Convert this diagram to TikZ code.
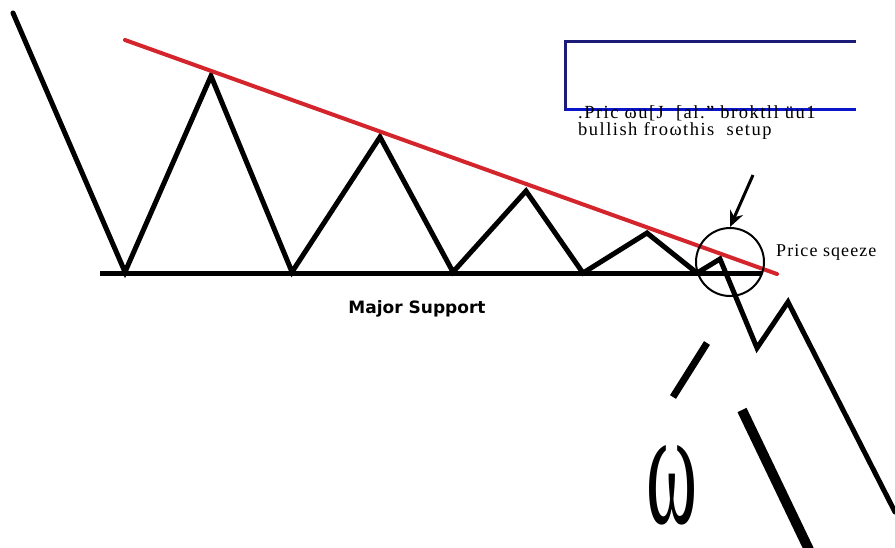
\documentclass[tikz,border=0pt]{standalone}
\usepackage{fontspec}
\setmainfont{Liberation Serif}
\newfontfamily\labsans{DejaVu Sans}
\usetikzlibrary{arrows.meta}
\definecolor{trendred}{HTML}{D3252B}
\definecolor{navy}{HTML}{1C1C78}
\definecolor{boxblue}{HTML}{0A14C8}
\tikzset{
  price/.style={line width=5pt, line join=miter, line cap=round},
  support/.style={line width=5pt},
  trend/.style={trendred, line width=4pt, line cap=round},
  bigstroke/.style={line width=#1},
  note/.style={inner sep=0pt, align=left, anchor=base west, font=\fontsize{18.5}{17}\selectfont\addfontfeature{LetterSpace=8}}
}
\begin{document}
\begin{tikzpicture}[x=1pt,y=-1pt]
\useasboundingbox[fill=white] (0,0) rectangle (895,547);
% zigzag points
\coordinate (A) at (13,13);
\coordinate (B) at (125,272);
\coordinate (C) at (211,76);
\coordinate (D) at (292,272);
\coordinate (E) at (380,137);
\coordinate (F) at (453,272);
\coordinate (G) at (526,191);
\coordinate (H) at (583,273);
\coordinate (I) at (647,233);
\coordinate (J) at (697,273);
\coordinate (K) at (720,259);
\coordinate (L) at (757,348);
\coordinate (M) at (788,302);
\coordinate (N) at (895,512);
% support and trend line ends
\coordinate (S1) at (100,273);
\coordinate (S2) at (762,273);
\coordinate (R1) at (125,40);
\coordinate (R2) at (777,274);
% support line
\draw[support] (S1) -- (S2);
% price path
\draw[price] (A) -- (B) -- (C) -- (D) -- (E) -- (F) -- (G) -- (H) -- (I) -- (J) -- (K) -- (L) -- (M) -- (N);
% trend line
\draw[trend] (R1) -- (R2);
% squeeze circle
\node[draw, circle, line width=2pt, minimum size=68pt, inner sep=0pt] (sq) at (730,262) {};
% arrow
\coordinate (T) at (753,175);
\draw[line width=3pt, -{Stealth[length=16pt,width=14pt]}] (T) -- (sq.north);
% label
\node[inner sep=0pt, anchor=base west, font=\fontsize{18}{20}\selectfont\addfontfeature{LetterSpace=6}] (lbl) at (776,256) {Price sqeeze};
\node[inner sep=0pt, font=\labsans\bfseries\fontsize{17}{20}\selectfont] (ms) at (417,309) {Major Support};
% blue box
\coordinate (B1) at (565,41);
\coordinate (B2) at (856,41);
\coordinate (B3) at (565,109);
\coordinate (B4) at (856,109);
\draw[navy, line width=3pt] (B2) -- (B1) -- (B3) -- ++(12,0);
\draw[boxblue, line width=3pt] (B3) -- (B4);
% text
\node[note] (t1) at (578,135) {.Pric ωu[J \ [al." broktll üu1\\bullish froωthis \ setup};
% big strokes
\coordinate (P1) at (707,343);
\coordinate (P2) at (673,397);
\coordinate (Q1) at (742,410);
\coordinate (Q2) at (812,556);
\draw[bigstroke=7pt] (P1) -- (P2);
\draw[bigstroke=10pt] (Q1) -- (Q2);
\node[inner sep=0pt, anchor=center] (om) at (672,485) {\resizebox{51pt}{78pt}{ω}};
\end{tikzpicture}
\end{document}
